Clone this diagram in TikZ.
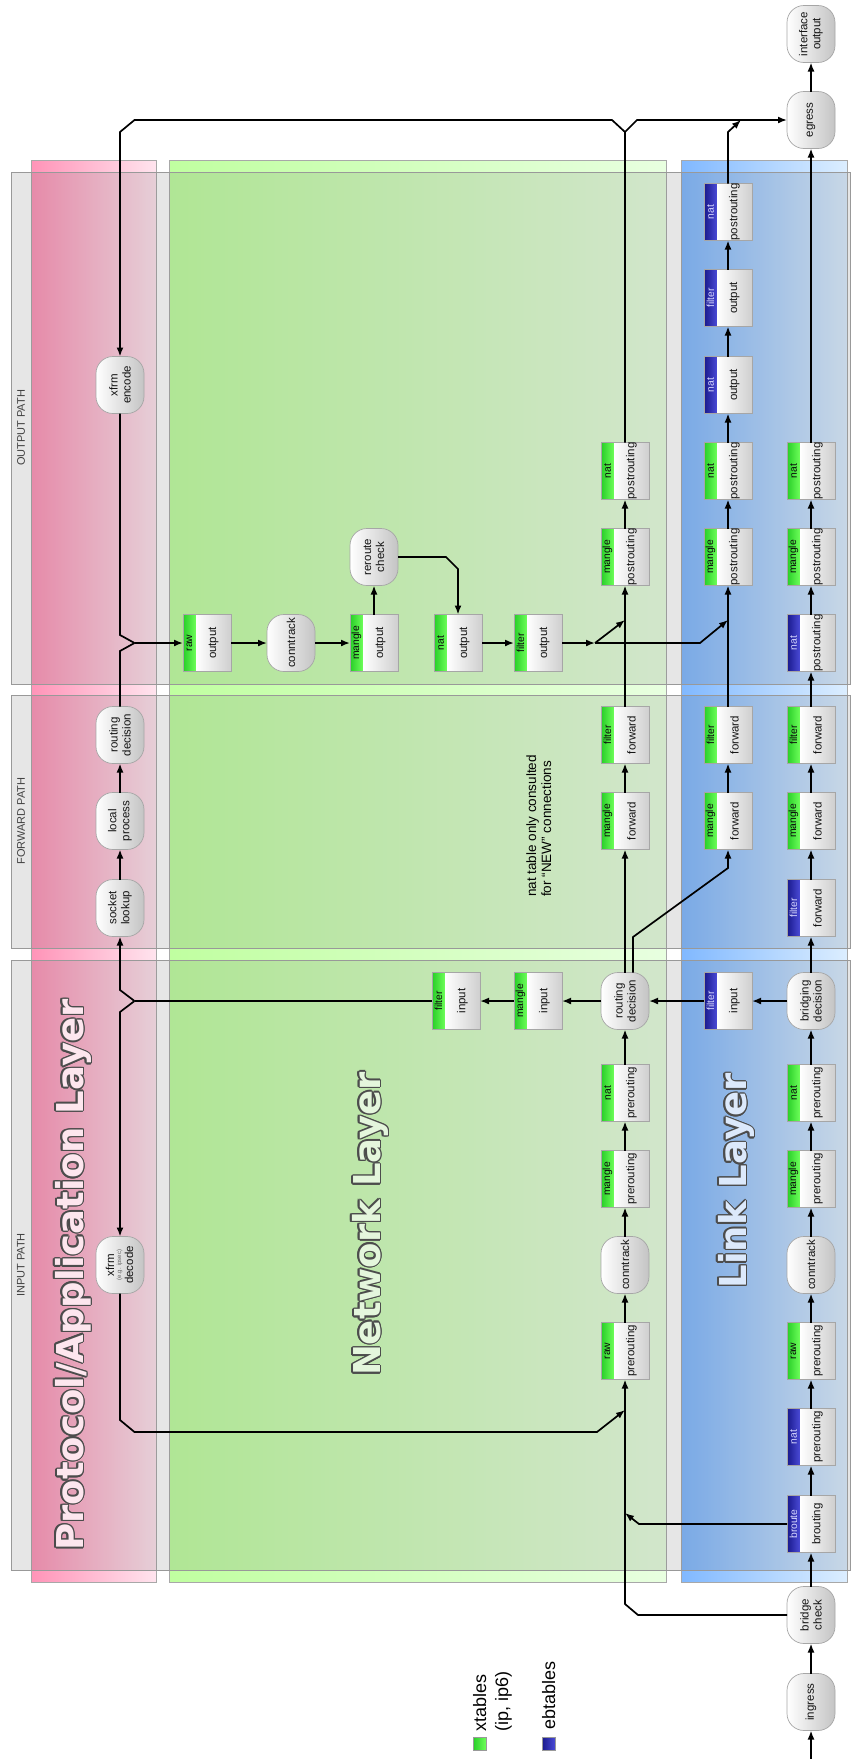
\documentclass[tikz,border=0pt]{standalone}
\usepackage{fontspec}
\setmainfont{Liberation Sans}
\newfontfamily\layerfont{DejaVu Sans}
\usetikzlibrary{arrows.meta,calc}

% layer bands
\definecolor{pinkL}{RGB}{255,148,184}
\definecolor{pinkR}{RGB}{255,228,238}
\definecolor{greenL}{RGB}{192,255,160}
\definecolor{greenR}{RGB}{232,255,224}
\definecolor{blueL}{RGB}{128,184,255}
\definecolor{blueR}{RGB}{220,238,255}
\definecolor{panelgray}{RGB}{88,88,88}
\definecolor{edgegray}{RGB}{168,168,168}
% table tabs
\definecolor{tabgL}{RGB}{40,205,40}
\definecolor{tabgR}{RGB}{110,255,90}
\definecolor{tabgT}{RGB}{10,10,10}
\definecolor{tabbL}{RGB}{25,25,140}
\definecolor{tabbR}{RGB}{75,75,215}
\definecolor{tabbT}{RGB}{215,215,255}
\definecolor{boxgray}{RGB}{207,207,207}
\definecolor{pillgray}{RGB}{196,196,196}
% layer titles
\definecolor{protofill}{RGB}{253,230,238}
\definecolor{netfill}{RGB}{228,246,220}
\definecolor{linkfill}{RGB}{220,233,251}

\tikzset{
  flow/.style={draw=black, line width=1.7pt, line join=miter},
  arr/.style={flow, -{Latex[length=9pt,width=7pt]}},
  boxedge/.style={draw=black!35, line width=0.7pt},
  hitbox/.style={draw=none, minimum width=48pt, minimum height=57pt, inner sep=0pt, outer sep=0pt},
  pillnode/.style={hitbox, draw=black!35, line width=0.7pt, rounded corners=17pt,
    left color=white, right color=pillgray},
  nodetext/.style={rotate=90, inner sep=0pt, align=center,
    font=\fontsize{11.5}{13}\selectfont, text=black!92},
  tabtext/.style={rotate=90, inner sep=0pt, font=\fontsize{10.3}{11}\selectfont},
  layertxt/.style={rotate=90, anchor=base, inner sep=0pt,
    font=\layerfont\bfseries\fontsize{37}{40}\selectfont},
  pathtext/.style={rotate=90, inner sep=0pt, font=\fontsize{11}{12}\selectfont, text=black!75},
  notetext/.style={rotate=90, anchor=base west, inner sep=0pt, font=\fontsize{13.5}{15}\selectfont},
  legtext/.style={rotate=90, anchor=base west, inner sep=0pt, font=\fontsize{18}{20}\selectfont},
  band/.style={draw=edgegray, line width=0.6pt},
  panel/.style={draw=black!40, line width=0.8pt, fill=panelgray, fill opacity=0.15},
}

% chain box: name, x, y, tab kind (g/b), table, chain
\newcommand\chainbox[6]{%
  \shade[left color=tab#4L, right color=tab#4R] (#2-24,#3-28.5) rectangle (#2-11,#3+28.5);
  \shade[left color=white, right color=boxgray] (#2-11,#3-28.5) rectangle (#2+24,#3+28.5);
  \draw[boxedge] (#2-24,#3-28.5) rectangle (#2+24,#3+28.5);
  \node[tabtext, text=tab#4T] at (#2-17.5,#3) {#5};
  \node[nodetext] at (#2+6.5,#3) {#6};
  \node[hitbox] (#1) at (#2,#3) {};
}
% rounded step: name, x, y, text
\newcommand\pillstep[4]{%
  \node[pillnode] (#1) at (#2,#3) {};
  \node[nodetext] at (#2,#3) {#4};
}
% outlined layer title: x, y, fill, text
\newcommand\layerlabel[4]{%
  \foreach \a in {0,30,...,330}
    \node[layertxt, text=black!70] at ($(#1,#2)+(\a:1.4)$) {#4};
  \node[layertxt, text=#3] at (#1,#2) {#4};
}

\begin{document}
\begin{tikzpicture}[x=1pt, y=-1pt]
\useasboundingbox (0,0) rectangle (851,1759);

% ---- layer bands
\shade[left color=pinkL, right color=pinkR] (31.5,160) rectangle (156,1582);
\draw[band] (31.5,160) rectangle (156,1582);
\shade[left color=greenL, right color=greenR] (169,160) rectangle (666,1582);
\draw[band] (169,160) rectangle (666,1582);
\shade[left color=blueL, right color=blueR] (681,160) rectangle (847,1582);
\draw[band] (681,160) rectangle (847,1582);

% ---- path panels
\path[panel] (11,172) rectangle (850,684);
\path[panel] (11,695) rectangle (850,948);
\path[panel] (11,960) rectangle (850,1570);
\node[pathtext] (lblout) at (21,428) {OUTPUT PATH};
\node[pathtext] (lblfwd) at (21,821) {FORWARD PATH};
\node[pathtext] (lblin) at (21,1265) {INPUT PATH};

% ---- layer titles
\layerlabel{83}{1275}{protofill}{Protocol/Application Layer}
\layerlabel{380}{1224}{netfill}{Network Layer}
\layerlabel{746}{1181}{linkfill}{Link Layer}

% ---- protocol / application layer
\pillstep{xfrmenc}{120}{385}{xfrm\\encode}
\pillstep{prd}{120}{735}{routing\\decision}
\pillstep{lproc}{120}{821}{local\\process}
\pillstep{sock}{120}{908}{socket\\lookup}
\node[pillnode] (xfrmdec) at (120,1265) {};
\node[nodetext] (xfrmdecA) at (110,1265) {xfrm};
\node[nodetext, font=\fontsize{6}{7}\selectfont, text=black!60] (xfrmdecB) at (119.5,1265) {(e.g. ipsec)};
\node[nodetext] (xfrmdecC) at (129,1265) {decode};

% ---- network layer: output chains
\chainbox{rawout}{207}{643}{g}{raw}{output}
\pillstep{ctout}{291}{643}{conntrack}
\chainbox{mangout}{374}{643}{g}{mangle}{output}
\pillstep{reroute}{374}{557}{reroute\\check}
\chainbox{natout}{458}{643}{g}{nat}{output}
\chainbox{filtout}{538}{643}{g}{filter}{output}

% ---- network layer: main column
\chainbox{natpost}{625}{471}{g}{nat}{postrouting}
\chainbox{manpost}{625}{557}{g}{mangle}{postrouting}
\chainbox{filtfwd}{625}{735}{g}{filter}{forward}
\chainbox{manfwd}{625}{821}{g}{mangle}{forward}
\pillstep{nrd}{625}{1001}{routing\\decision}
\chainbox{natpre}{625}{1093}{g}{nat}{prerouting}
\chainbox{manpre}{625}{1179}{g}{mangle}{prerouting}
\pillstep{ctin}{625}{1265}{conntrack}
\chainbox{rawpre}{625}{1351}{g}{raw}{prerouting}

% ---- network layer: input chains
\chainbox{manin}{538}{1001}{g}{mangle}{input}
\chainbox{filtin}{456}{1001}{g}{filter}{input}

% ---- link layer: first column
\chainbox{natpost1b}{728}{212}{b}{nat}{postrouting}
\chainbox{filtout1}{728}{298}{b}{filter}{output}
\chainbox{natout1}{728}{385}{b}{nat}{output}
\chainbox{natpost1g}{728}{471}{g}{nat}{postrouting}
\chainbox{manpost1}{728}{557}{g}{mangle}{postrouting}
\chainbox{filtfwd1}{728}{735}{g}{filter}{forward}
\chainbox{manfwd1}{728}{821}{g}{mangle}{forward}
\chainbox{filtin1}{728}{1001}{b}{filter}{input}

% ---- link layer: second column
\pillstep{ifout}{811}{34}{interface\\output}
\pillstep{egress}{811}{120}{egress}
\chainbox{natpost2}{811}{471}{g}{nat}{postrouting}
\chainbox{manpost2}{811}{557}{g}{mangle}{postrouting}
\chainbox{natpost2b}{811}{643}{b}{nat}{postrouting}
\chainbox{filtfwd2}{811}{735}{g}{filter}{forward}
\chainbox{manfwd2}{811}{821}{g}{mangle}{forward}
\chainbox{filtfwd2b}{811}{908}{b}{filter}{forward}
\pillstep{bdec}{811}{1001}{bridging\\decision}
\chainbox{natpre2}{811}{1093}{g}{nat}{prerouting}
\chainbox{manpre2}{811}{1179}{g}{mangle}{prerouting}
\pillstep{ct2}{811}{1265}{conntrack}
\chainbox{rawpre2}{811}{1351}{g}{raw}{prerouting}
\chainbox{natpre2b}{811}{1437}{b}{nat}{prerouting}
\chainbox{broute}{811}{1524}{b}{broute}{brouting}
\pillstep{bcheck}{811}{1615}{bridge\\check}
\pillstep{ingress}{811}{1702}{ingress}

% ---- note and legend
\node[notetext] (note1) at (536,897) {nat table only consulted};
\node[notetext] (note2) at (551,897) {for “NEW” connections};
\shadedraw[left color=tabgL, right color=tabgR, draw=black!40, line width=0.5pt] (473,1737) rectangle (486,1750);
\node[legtext] (legx1) at (486,1732) {xtables};
\node[legtext] (legx2) at (508,1732) {(ip, ip6)};
\shadedraw[left color=tabbL, right color=tabbR, draw=black!40, line width=0.5pt] (542,1737) rectangle (555,1750);
\node[legtext] (lege) at (555,1730) {ebtables};

% ---- connectors: top junction towards egress and xfrm encode
\coordinate (topV) at (625,132);
\coordinate (topL) at (612,120);
\coordinate (topLL) at (134.5,120);
\coordinate (topP) at (120,132);
\coordinate (topR) at (637,120);
\draw[arr] (natpost.north) -- (topV) -- (topL) -- (topLL) -- (topP) -- (xfrmenc.north);
\draw[arr] (topV) -- (topR) -- (egress.west);
\coordinate (l1top) at (728,132);
\coordinate (l1tip) at (741,120);
\draw[arr] (natpost1b.north) -- (l1top) -- (l1tip);

% ---- local output path
\coordinate (outJ) at (134.5,643);
\coordinate (outA) at (120,635);
\coordinate (outB) at (120,651);
\draw[flow] (xfrmenc.south) -- (outA) -- (outJ);
\draw[flow] (prd.north) -- (outB) -- (outJ);
\draw[arr] (outJ) -- (rawout.west);
\draw[arr] (rawout.east) -- (ctout.west);
\draw[arr] (ctout.east) -- (mangout.west);
\draw[arr] (mangout.north) -- (reroute.south);
\coordinate (rrA) at (446,557);
\coordinate (rrB) at (458,569);
\draw[arr] (reroute.east) -- (rrA) -- (rrB) -- (natout.north);
\draw[arr] (natout.east) -- (filtout.west);
\coordinate (fo) at (595,643);
\coordinate (foN) at (625,620);
\coordinate (foA) at (700,643);
\coordinate (foL) at (728,620);
\draw[arr] (filtout.east) -- (fo);
\draw[arr] (fo) -- (foN);
\draw[arr] (fo) -- (foA) -- (foL);

% ---- protocol layer
\draw[arr] (sock.north) -- (lproc.south);
\draw[arr] (lproc.north) -- (prd.south);
\coordinate (inJ) at (134.5,1001);
\coordinate (inA) at (120,990);
\coordinate (inB) at (120,1012);
\draw[flow] (filtin.west) -- (inJ);
\draw[arr] (inJ) -- (inA) -- (sock.south);
\draw[arr] (inJ) -- (inB) -- (xfrmdec.north);
\coordinate (decA) at (120,1420);
\coordinate (decB) at (134.5,1432);
\coordinate (decC) at (597,1432);
\coordinate (decD) at (625,1410);
\draw[arr] (xfrmdec.south) -- (decA) -- (decB) -- (decC) -- (decD);

% ---- input path
\draw[arr] (nrd.west) -- (manin.east);
\draw[arr] (manin.west) -- (filtin.east);
\draw[arr] (filtin1.west) -- (nrd.east);
\draw[arr] (bdec.west) -- (filtin1.east);

% ---- network main column
\draw[arr] (rawpre.north) -- (ctin.south);
\draw[arr] (ctin.north) -- (manpre.south);
\draw[arr] (manpre.north) -- (natpre.south);
\draw[arr] (natpre.north) -- (nrd.south);
\draw[arr] (nrd.north) -- (manfwd.south);
\draw[arr] (manfwd.north) -- (filtfwd.south);
\draw[arr] (filtfwd.north) -- (manpost.south);
\draw[arr] (manpost.north) -- (natpost.south);
\coordinate (brA) at (633,937);
\coordinate (brB) at (728,868);
\draw[arr] ($(nrd.north)+(8,0)$) -- (brA) -- (brB) -- (manfwd1.south);

% ---- bridge check and broute into the network layer
\coordinate (bcA) at (638,1615);
\coordinate (bcB) at (625,1604);
\draw[arr] (bcheck.west) -- (bcA) -- (bcB) -- (rawpre.south);
\coordinate (btA) at (639,1524);
\coordinate (btB) at (625,1513);
\draw[arr] (broute.west) -- (btA) -- (btB);

% ---- link layer first column
\draw[arr] (manfwd1.north) -- (filtfwd1.south);
\draw[arr] (filtfwd1.north) -- (manpost1.south);
\draw[arr] (manpost1.north) -- (natpost1g.south);
\draw[arr] (natpost1g.north) -- (natout1.south);
\draw[arr] (natout1.north) -- (filtout1.south);
\draw[arr] (filtout1.north) -- (natpost1b.south);

% ---- link layer second column
\coordinate (inlet) at (811,1759);
\draw[arr] (inlet) -- (ingress.south);
\foreach \a/\b in {ingress/bcheck, bcheck/broute, broute/natpre2b, natpre2b/rawpre2,
    rawpre2/ct2, ct2/manpre2, manpre2/natpre2, natpre2/bdec, bdec/filtfwd2b,
    filtfwd2b/manfwd2, manfwd2/filtfwd2, filtfwd2/natpost2b, natpost2b/manpost2,
    manpost2/natpost2, natpost2/egress, egress/ifout}
  \draw[arr] (\a.north) -- (\b.south);
\end{tikzpicture}
\end{document}
